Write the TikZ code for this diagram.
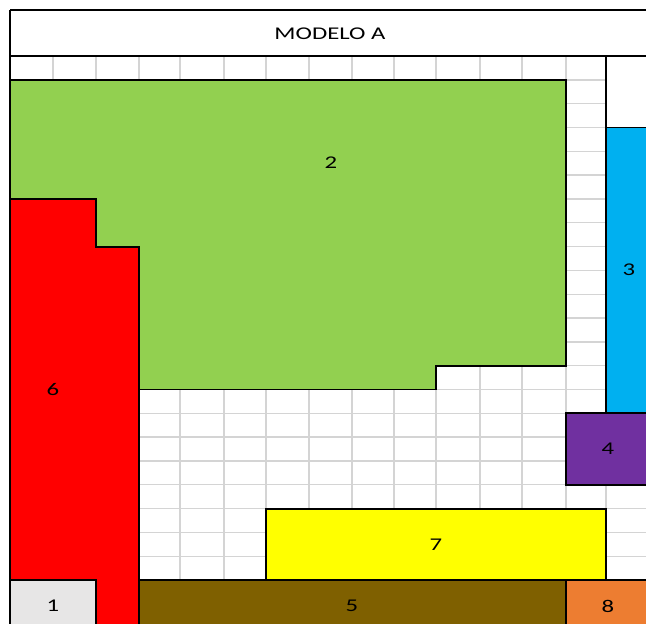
\documentclass[tikz,border=0pt]{standalone}
\usepackage{fontspec}
\setmainfont{Carlito}[FakeStretch=1.38]
\definecolor{cgreen}{HTML}{92D050}
\definecolor{cred}{HTML}{FF0000}
\definecolor{cblue}{HTML}{00B0F0}
\definecolor{cpurple}{HTML}{7030A0}
\definecolor{cyellow}{HTML}{FFFF00}
\definecolor{cbrown}{HTML}{7F6000}
\definecolor{corange}{HTML}{ED7D31}
\definecolor{cgrey}{HTML}{E7E6E6}
\definecolor{gridc}{HTML}{D4D4D4}
\tikzset{
  gridline/.style={draw=gridc, line width=1.4bp},
  block/.style={draw=black, line width=1.8bp, line join=miter},
  border/.style={draw=black, line width=1.8bp},
  lbl/.style={font=\fontsize{18}{21}\selectfont, inner sep=0pt, anchor=center},
}
\begin{document}
\begin{tikzpicture}[x=1bp, y=-1bp]
\useasboundingbox (0,0) rectangle (646,624);
\clip (0,0) rectangle (646,624);
\fill[white] (0,0) rectangle (646,624);
% grid
\foreach \cx in {53,96,139,180,224,266,309,352,394,436,480,522,566,606}
  \draw[gridline] (\cx,56) -- (\cx,580);
\foreach \k in {1,...,21}
  \draw[gridline] (10,{56+23.82*\k}) -- (660,{56+23.82*\k});
% empty merged cell
\fill[white] (607,57) rectangle (660,127.5);
% shapes
\path[block, fill=cgreen] (10,80) -- (566,80) -- (566,365.7) -- (436,365.7) -- (436,389.5) -- (139,389.5) -- (139,246.6) -- (96,246.6) -- (96,198.9) -- (10,198.9) -- cycle;
\path[block, fill=cred] (10,198.9) -- (96,198.9) -- (96,246.6) -- (139,246.6) -- (139,640) -- (10,640) -- cycle;
\path[block, fill=cblue] (606,127.5) rectangle (660,413.3);
\path[block, fill=cpurple] (566,413.3) rectangle (660,484.8);
\path[block, fill=cyellow] (266,508.6) rectangle (606,580);
\path[block, fill=cbrown] (139,580) rectangle (566,640);
\path[block, fill=corange] (566,580) rectangle (660,640);
\path[block, fill=cgrey] (10,580) rectangle (96,640);
% borders
\draw[border] (10,10) -- (660,10);
\draw[border] (10,56) -- (660,56);
\draw[border] (10,10) -- (10,640);
\draw[border] (606,56) -- (606,127.5);
% labels
\node[lbl] (title) at (330,34) {MODELO A};
\node[lbl] (n2) at (331,163) {2};
\node[lbl] (n6) at (53,390) {6};
\node[lbl] (n3) at (629,270) {3};
\node[lbl] (n4) at (608,449) {4};
\node[lbl] (n7) at (436,545) {7};
\node[lbl] (n5) at (352,606) {5};
\node[lbl] (n8) at (608,606) {8};
\node[lbl] (n1) at (53,606) {1};
\end{tikzpicture}
\end{document}
